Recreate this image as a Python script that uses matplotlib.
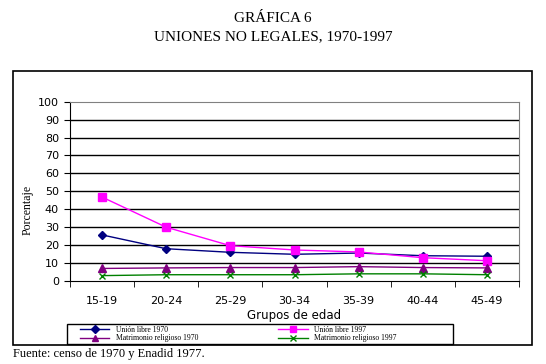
import matplotlib.pyplot as plt
from matplotlib.patches import Rectangle
import numpy as np

grupos = ["15-19", "20-24", "25-29", "30-34", "35-39", "40-44", "45-49"]
libre_1970 = [25.7, 18.0, 16.0, 14.9, 15.6, 14.1, 13.8]
libre_1997 = [46.8, 30.0, 19.7, 17.3, 16.2, 13.0, 11.3]
religioso_1970 = [7.0, 7.3, 7.5, 7.5, 8.0, 7.5, 7.3]
religioso_1997 = [3.0, 3.5, 3.5, 3.5, 4.0, 4.0, 3.5]
yticks = list(range(0, 101, 10))

W, H = 546, 364
fig = plt.figure(figsize=(W / 100, H / 100), dpi=100)
serif = "Liberation Serif"

# outer frame + legend box
fig.patches.append(Rectangle((13 / W, 1 - 345 / H), (532 - 13) / W, (345 - 71) / H,
                             transform=fig.transFigure, fill=False, lw=1.2, ec="black"))
fig.patches.append(Rectangle((67 / W, 1 - 344 / H), (453 - 67) / W, (344 - 324) / H,
                             transform=fig.transFigure, fill=False, lw=1, ec="black"))

ax = fig.add_axes([70 / W, 1 - 281 / H, (519 - 70) / W, (281 - 101.7) / H])
x = np.arange(len(grupos))

l1, = ax.plot(x, libre_1970, color="#000080", marker="D", ms=4, lw=1, label="Unión libre 1970")
l2, = ax.plot(x, libre_1997, color="#ff00ff", marker="s", ms=6, lw=1, label="Unión libre 1997")
l3, = ax.plot(x, religioso_1970, color="#800080", marker="^", ms=6, lw=1, label="Matrimonio religioso 1970")
l4, = ax.plot(x, religioso_1997, color="#008000", marker="x", ms=5, lw=1, label="Matrimonio religioso 1997")

ax.set_xlim(-0.5, len(grupos) - 0.5)
ax.set_ylim(0, 100)
ax.set_yticks(yticks)
ax.set_yticklabels([str(v) for v in yticks], fontsize=8)
for v in yticks[1:-1]:
    ax.axhline(v, color="black", lw=1, zorder=0)
ax.set_xticks(x)
ax.set_xticklabels(grupos, fontsize=8)
ax.set_xticks(np.arange(len(grupos) + 1) - 0.5, minor=True)
ax.tick_params(axis="x", which="major", length=0, pad=11)
ax.tick_params(axis="x", which="minor", length=4, direction="out")
ax.tick_params(axis="y", length=4, direction="out", pad=4)
for s in ["top", "right"]:
    ax.spines[s].set_color("#808080")
ax.spines["left"].set_color("black")
ax.spines["bottom"].set_color("black")

fig.text(294 / W, 1 - 315 / H, "Grupos de edad", ha="center", va="center", fontsize=8.5)
fig.text(28 / W, 1 - 210 / H, "Porcentaje", rotation=90, ha="center", va="center",
         family=serif, fontsize=8.5)

fig.text(0.5, 1 - 18 / H, "GRÁFICA 6", ha="center", va="center", family=serif, fontsize=11)
fig.text(0.5, 1 - 37 / H, "UNIONES NO LEGALES, 1970-1997", ha="center", va="center",
         family=serif, fontsize=11)

leg = fig.legend([l1, l3, l2, l4], [l.get_label() for l in (l1, l3, l2, l4)],
                 loc="center left", bbox_to_anchor=(80 / W, 1 - 334 / H),
                 ncol=2, frameon=False, borderpad=0, labelspacing=0.05, handlelength=3.8,
                 handletextpad=0.9, columnspacing=10.5, borderaxespad=0,
                 prop={"family": serif, "size": 5.5})
for h in leg.legend_handles:
    h.set_markersize(4)

fig.text(13 / W, 1 - 354 / H, "Fuente: censo de 1970 y Enadid 1977.", ha="left", va="center",
         family=serif, fontsize=9)

fig.savefig("out.png", dpi=100)
